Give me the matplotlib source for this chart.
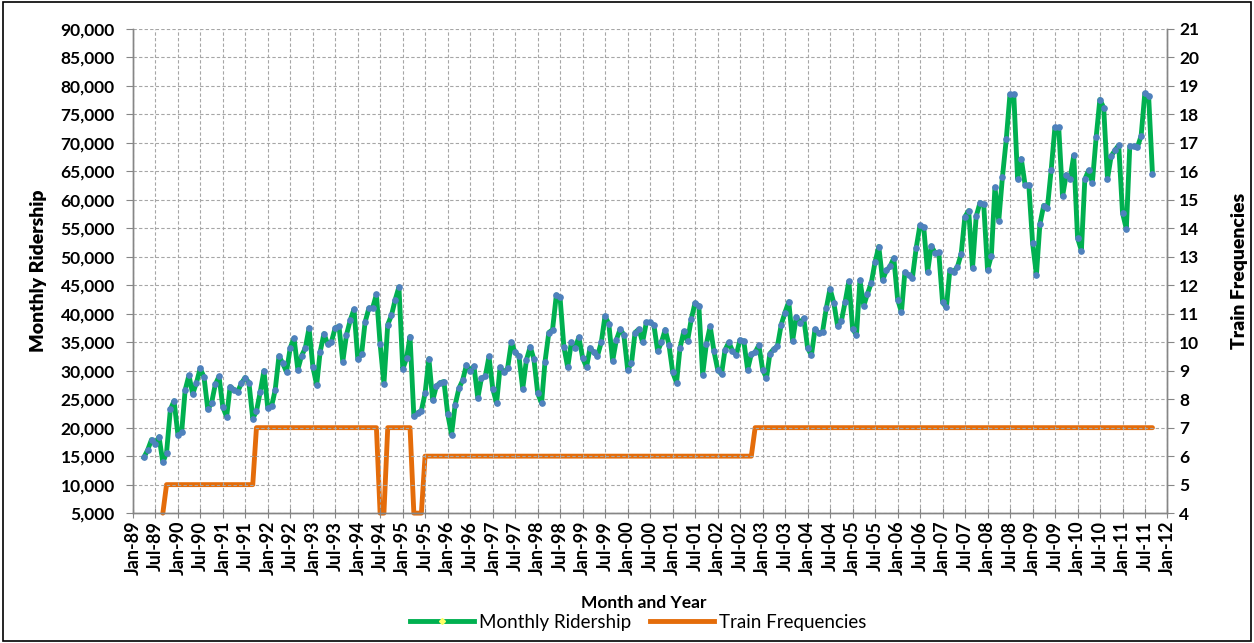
import matplotlib
matplotlib.use("Agg")
import matplotlib.pyplot as plt
import matplotlib.dates as mdates
from matplotlib.lines import Line2D
from matplotlib.patches import Rectangle
from matplotlib.ticker import MultipleLocator, FuncFormatter
import pandas as pd

plt.rcParams['font.family'] = ['Lato', 'DejaVu Sans']

# monthly ridership, Apr-89 .. Sep-11 (one row per calendar year)
ridership = [
    14800, 16100, 17900, 17200, 18400, 13900, 15600, 23200, 24700,                 # 1989 Apr-Dec
    18800, 19300, 26600, 29200, 25900, 27900, 30400, 28900, 23200, 24300, 27600, 29000,  # 1990
    23600, 21900, 27200, 26700, 26300, 27800, 28800, 27900, 21600, 22900, 26300, 30000,  # 1991
    23400, 23800, 26600, 32600, 31300, 29800, 34000, 35700, 30200, 32600, 34000, 37500,  # 1992
    30700, 27500, 33300, 36500, 34700, 35100, 37500, 37800, 31600, 36300, 38900, 40800,  # 1993
    32000, 33000, 38500, 41000, 41000, 43400, 34700, 27700, 38100, 39700, 42500, 44700,  # 1994
    30300, 32200, 36000, 22000, 22600, 23000, 26000, 32100, 24800, 27300, 27900, 28100,  # 1995
    22400, 18800, 24000, 26900, 28300, 31000, 30000, 30800, 25200, 28700, 29000, 32500,  # 1996
    26800, 24300, 30600, 29700, 30400, 35000, 33200, 32600, 26800, 31900, 34200, 32000,  # 1997
    26000, 24300, 31600, 36700, 37200, 43300, 42900, 34200, 30600, 35000, 34000, 35900,  # 1998
    32200, 30600, 34000, 33200, 32600, 35000, 39600, 38200, 31700, 35400, 37300, 36300,  # 1999
    30200, 31300, 36700, 37300, 35000, 38500, 38500, 38000, 33400, 35000, 37200, 34600,  # 2000
    29700, 27900, 34000, 36900, 35200, 39100, 41900, 41400, 29300, 34700, 37800, 33500,  # 2001
    30200, 29400, 33600, 35000, 33500, 32800, 35400, 35200, 30200, 32900, 33200, 34500,  # 2002
    30200, 28700, 33000, 33800, 34300, 38100, 40200, 42100, 35200, 39400, 38400, 39200,  # 2003
    34000, 32700, 37300, 36600, 36800, 41000, 44400, 41900, 37800, 38700, 42100, 45700,  # 2004
    37300, 36300, 45900, 41400, 43500, 45400, 49000, 51800, 45900, 47600, 48300, 49800,  # 2005
    42500, 40300, 47300, 46800, 46300, 51600, 55500, 55200, 47300, 51900, 50700, 50800,  # 2006
    42000, 41100, 47700, 47400, 48200, 50500, 57000, 58100, 48000, 57100, 59500, 59200,  # 2007
    47700, 50200, 62200, 56300, 64000, 70600, 78500, 78500, 63700, 67200, 62600, 62600,  # 2008
    52400, 46800, 55700, 59000, 58600, 65300, 72700, 72700, 60600, 64400, 63700, 67800,  # 2009
    53300, 51100, 63600, 65200, 63000, 71000, 77600, 76200, 63700, 67700, 68700, 69600,  # 2010
    57700, 54900, 69400, 69400, 69200, 71200, 78700, 78200, 64600,                 # 2011 Jan-Sep
]
ridership_start = "1989-04-01"

# train frequencies: months where the level changes (monthly line between them)
freq_months = ["1989-09", "1989-10", "1991-09", "1991-10", "1994-06", "1994-07",
               "1994-08", "1994-09", "1995-03", "1995-04", "1995-06", "1995-07",
               "2002-10", "2002-11", "2011-09"]
freq_values = [4, 5, 5, 7, 7, 4, 4, 7, 7, 4, 4, 6, 6, 7, 7]

green = "#00B050"
blue = "#4F81BD"
orange = "#E46C0A"
grid_c = "#A6A6A6"
axis_c = "#868686"

ride_dates = pd.date_range(ridership_start, periods=len(ridership), freq="MS")
freq_dates = pd.to_datetime(freq_months)

fig = plt.figure(figsize=(12.54, 6.43), dpi=100)
ax = fig.add_axes([0.106, 0.202, 0.825, 0.753])
ax2 = ax.twinx()

ax.plot(ride_dates, ridership, color=green, lw=3.5, marker="o", ms=3.8,
        mfc=blue, mec=blue, solid_joinstyle="round", zorder=3)
ax2.plot(freq_dates, freq_values, color=orange, lw=3.5, solid_joinstyle="round",
         solid_capstyle="round", clip_on=False, zorder=2)

ax.set_zorder(ax2.get_zorder() + 1)
ax.patch.set_visible(False)

ax.set_xlim(pd.Timestamp("1989-01-01"), pd.Timestamp("2012-01-01"))
ax.set_ylim(5000, 90000)
ax2.set_ylim(4, 21)
ax.yaxis.set_major_locator(MultipleLocator(5000))
ax.yaxis.set_major_formatter(FuncFormatter(lambda v, p: f"{int(v):,}"))
ax2.yaxis.set_major_locator(MultipleLocator(1))

ax.xaxis.set_major_locator(mdates.MonthLocator(bymonth=[1, 7]))
ax.xaxis.set_major_formatter(mdates.DateFormatter("%b-%y"))

ax.grid(True, color=grid_c, ls=(0, (3, 2)), lw=0.8)
ax.set_axisbelow(True)

for a in (ax, ax2):
    a.spines["top"].set_visible(False)
    for s in ("left", "right", "bottom"):
        a.spines[s].set_color(axis_c)
        a.spines[s].set_linewidth(1.0)

ax.tick_params(axis="x", direction="inout", length=7, color=axis_c, labelsize=13,
               pad=2, labelrotation=90)
ax.tick_params(axis="y", direction="out", length=5, color=axis_c, labelsize=12.5, pad=8)
ax2.tick_params(axis="y", direction="out", length=5, color=axis_c, labelsize=12.5)
for lab in ax.get_xticklabels() + ax.get_yticklabels() + ax2.get_yticklabels():
    lab.set_fontweight("bold")

ax.set_ylabel("Monthly Ridership", fontsize=14, fontweight="heavy")
ax2.set_ylabel("Train Frequencies", fontsize=14, fontweight="heavy")
ax.yaxis.set_label_coords(-0.083, 0.5)
ax2.yaxis.set_label_coords(1.061, 0.5)
fig.text(0.513, 0.062, "Month and Year", ha="center", va="center",
         fontsize=12.5, fontweight="bold")

handles = [
    Line2D([], [], color=green, lw=3.5, marker="D", ms=3, mfc="#FFFF66", mec="#FFFF66"),
    Line2D([], [], color=orange, lw=3.5),
]
fig.legend(handles, ["Monthly Ridership", "Train Frequencies"], loc="center",
           bbox_to_anchor=(0.509, 0.032), ncol=2, frameon=False, fontsize=13.5,
           handlelength=3.4, columnspacing=1.0, handletextpad=0.3)

fig.patches.append(Rectangle((0.002, 0.003), 0.996, 0.994, transform=fig.transFigure,
                             fill=False, edgecolor="black", lw=1.2))

fig.savefig("out.png", dpi=100)
